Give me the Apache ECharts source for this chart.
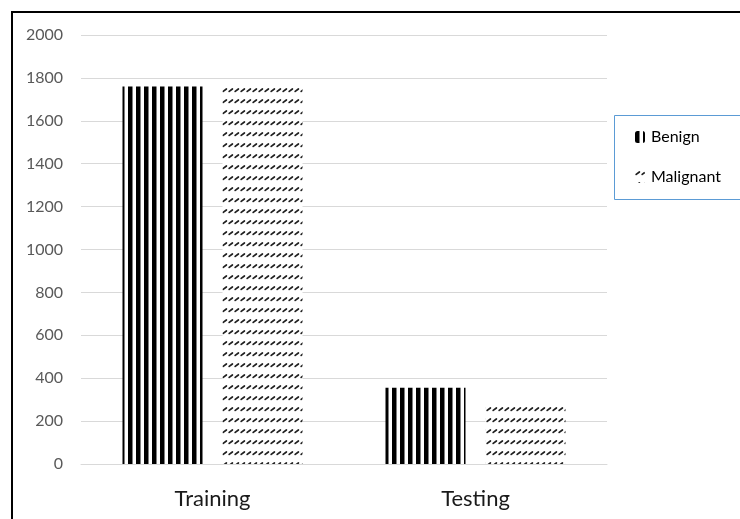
<!DOCTYPE html>
<html>
<head>
<meta charset="utf-8">
<script src="https://cdn.jsdelivr.net/npm/echarts@6/dist/echarts.min.js"></script>
<style>
html,body{margin:0;padding:0;background:#fff;}
#chart{width:740px;height:519px;}
</style>
</head>
<body>
<div id="chart"></div>
<script>
var categories = ['Training', 'Testing'];
var benign = [1760, 355];
var malignant = [1760, 270];
var yTicks = [0, 200, 400, 600, 800, 1000, 1200, 1400, 1600, 1800, 2000];

function stripePattern() {
  var c = document.createElement('canvas');
  c.width = 8; c.height = 8;
  var ctx = c.getContext('2d');
  ctx.fillStyle = '#ffffff';
  ctx.fillRect(0, 0, 8, 8);
  ctx.fillStyle = '#000000';
  ctx.fillRect(0, 0, 4.5, 8);
  return { image: c, repeat: 'repeat' };
}
function slashPattern() {
  var c = document.createElement('canvas');
  c.width = 6; c.height = 11;
  var ctx = c.getContext('2d');
  ctx.fillStyle = '#ffffff';
  ctx.fillRect(0, 0, 6, 11);
  ctx.strokeStyle = '#1f1f1f';
  ctx.lineWidth = 1.7;
  ctx.lineCap = 'round';
  ctx.beginPath();
  ctx.moveTo(1.2, 3.4);
  ctx.lineTo(4.4, 1.0);
  ctx.stroke();
  return { image: c, repeat: 'repeat' };
}

var chart = echarts.init(document.getElementById('chart'));
chart.setOption({
  animation: false,
  backgroundColor: '#ffffff',
  grid: { left: 81, right: 133, top: 35, bottom: 55, containLabel: false },
  graphic: [
    { type: 'rect', z: 100, shape: { x: 12, y: 12, width: 780, height: 560 },
      style: { fill: 'none', stroke: '#000000', lineWidth: 2 } },
    { type: 'rect', z: -1, shape: { x: 614.5, y: 115.5, width: 200, height: 84 },
      style: { fill: '#ffffff', stroke: '#5B9BD5', lineWidth: 1 } }
  ],
  legend: {
    orient: 'vertical',
    left: 635, top: 129, padding: 0,
    itemWidth: 10, itemHeight: 12, itemGap: 24,
    textStyle: { fontFamily: 'Lato', fontSize: 16, color: '#000000', lineHeight: 16, padding: [0, 0, 0, 1] },
    data: ['Benign', 'Malignant']
  },
  xAxis: {
    type: 'category',
    data: categories,
    axisLine: { show: true, lineStyle: { color: '#d9d9d9', width: 1 } },
    axisTick: { show: false },
    axisLabel: { fontFamily: 'Lato', fontSize: 22, color: '#1a1a1a', margin: 24 }
  },
  yAxis: {
    type: 'value',
    min: yTicks[0], max: yTicks[yTicks.length - 1], interval: 200,
    axisLine: { show: false },
    axisTick: { show: false },
    splitLine: { lineStyle: { color: '#d9d9d9', width: 1 } },
    axisLabel: { fontFamily: 'Lato', fontSize: 16, color: '#595959', margin: 18,
      formatter: function (v) { return String(v); } }
  },
  series: [
    { name: 'Benign', type: 'bar', data: benign, barWidth: 80, barGap: '25%',
      itemStyle: { color: stripePattern() } },
    { name: 'Malignant', type: 'bar', data: malignant, barWidth: 80,
      itemStyle: { color: slashPattern() } }
  ]
});
</script>
</body>
</html>
